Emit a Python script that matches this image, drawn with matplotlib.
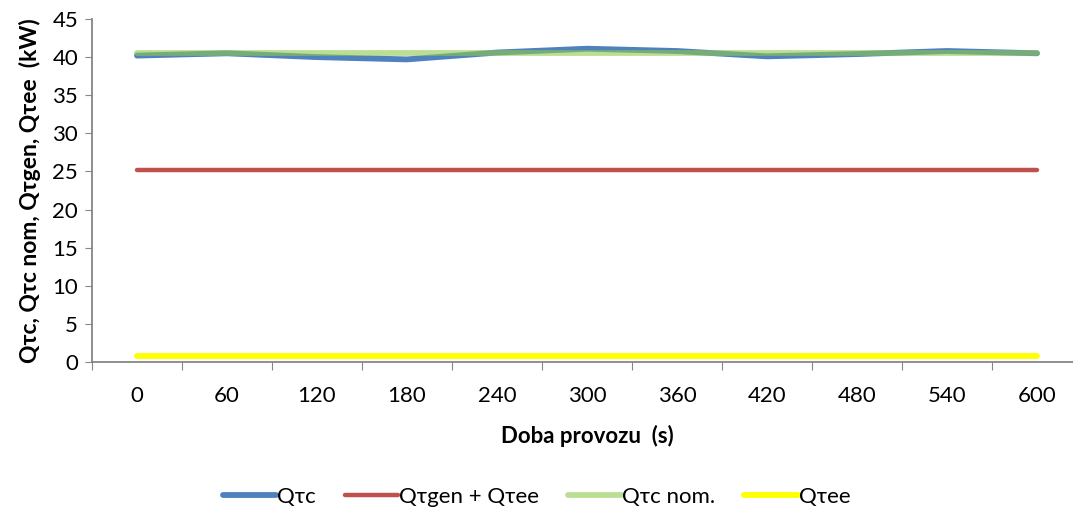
import matplotlib
matplotlib.use('Agg')
import matplotlib.pyplot as plt
import numpy as np

plt.rcParams['font.family'] = ['Lato', 'DejaVu Sans']

# doba provozu (s)
cas = [0, 60, 120, 180, 240, 300, 360, 420, 480, 540, 600]
q_tc = [40.2, 40.5, 40.0, 39.7, 40.6, 41.1, 40.8, 40.1, 40.4, 40.8, 40.5]
q_gen_ee = [25.2] * 11
q_tc_nom = [40.6] * 11
q_ee = [0.85] * 11

fig = plt.figure(figsize=(10.73, 5.12), dpi=100)
ax = fig.add_axes([92/1073, 1 - 362/512, 990/1073, 343/512])

x = np.arange(len(cas))
ax.plot(x, q_tc, color='#4F81BD', lw=4.2, solid_capstyle='round', label='Qτc', zorder=3)
ax.plot(x, q_gen_ee, color='#C0504D', lw=3.2, solid_capstyle='round', label='Qτgen + Qτee', zorder=3)
ax.plot(x, q_tc_nom, color='#8FC94E', lw=4.2, alpha=0.6, solid_capstyle='round', label='Qτc nom.', zorder=4)
ax.plot(x, q_ee, color='#FFFF00', lw=4.2, solid_capstyle='round', label='Qτee', zorder=3)

ax.set_xlim(-0.5, len(cas) - 0.5)
ax.set_ylim(0, 45)
ax.set_yticks(range(0, 46, 5))
ax.set_xticks(np.arange(-0.5, len(cas), 1.0))
ax.set_xticklabels([])
ax.set_xticks(x, minor=True)
ax.set_xticklabels([str(c) for c in cas], minor=True)
ax.tick_params(axis='x', which='major', length=6, color='#868686', direction='out')
ax.tick_params(axis='x', which='minor', length=0, pad=17, labelsize=16)
ax.tick_params(axis='y', length=5, color='#868686', labelsize=16, pad=5)

for s in ['top', 'right']:
    ax.spines[s].set_visible(False)
for s in ['left', 'bottom']:
    ax.spines[s].set_color('#868686')
    ax.spines[s].set_linewidth(1.3)

ax.set_xlabel('Doba provozu  (s)', fontsize=16, fontweight='bold', labelpad=14)
ax.set_ylabel('Qτc, Qτc nom, Qτgen, Qτee  (kW)', fontsize=16.5, fontweight='bold', labelpad=8)

fig.legend(loc='center', bbox_to_anchor=(0.5, 1 - 497/512), ncol=4, frameon=False,
           fontsize=16, handlelength=2.4, handletextpad=0.05, columnspacing=1.3)

fig.savefig('out.png', dpi=100)
